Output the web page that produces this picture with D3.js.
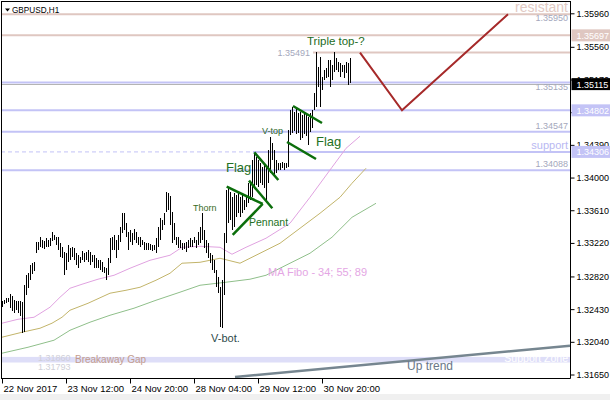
<!DOCTYPE html>
<html><head><meta charset="utf-8">
<script src="https://cdn.jsdelivr.net/npm/d3@7"></script>
<style>
body{margin:0;background:#fff}
svg{display:block}
text{font-family:"Liberation Sans",Arial,sans-serif}
</style></head>
<body><svg id="c" width="610" height="400"></svg>
<script>
// ---------------- DATA ----------------
const symbolTitle = "GBPUSD,H1";
const highs = [1.32524,1.32536,1.3256,1.3256,1.32608,1.32584,1.32536,1.32524,1.32524,1.32524,
1.32512,1.32715,1.32834,1.32858,1.32954,1.32978,1.32989,1.33228,1.33228,1.33288,
1.33252,1.3324,1.33276,1.33252,1.33276,1.33347,1.33312,1.33288,1.33288,1.33216,
1.33168,1.33109,1.33097,1.33192,1.33156,1.33168,1.33156,1.33097,1.33073,1.33049,
1.33121,1.33097,1.33109,1.33133,1.33109,1.33073,1.33073,1.33037,1.33013,1.33013,
1.32989,1.3293,1.32918,1.33037,1.33276,1.33288,1.33312,1.33252,1.33312,1.33407,
1.33574,1.33574,1.33455,1.33347,1.33371,1.33335,1.33383,1.33347,1.33288,1.33288,
1.33252,1.33228,1.33216,1.33216,1.33204,1.33192,1.33192,1.33276,1.33407,1.33514,
1.33491,1.33574,1.33825,1.33813,1.33777,1.33586,1.33455,1.33288,1.33288,1.33252,
1.33216,1.33216,1.33228,1.33252,1.33276,1.33252,1.33288,1.33252,1.33347,1.33407,
1.33574,1.33371,1.33252,1.33216,1.33097,1.33073,1.33013,1.32894,1.32811,1.32691,
1.32775,1.33335,1.33848,1.33872,1.33825,1.33765,1.33813,1.33789,1.33813,1.33765,
1.33813,1.33729,1.33765,1.33932,1.33932,1.34206,1.3429,1.34242,1.34206,1.34171,
1.34123,1.34171,1.34123,1.34326,1.34481,1.34409,1.34326,1.34206,1.34171,1.34171,
1.34182,1.34171,1.34171,1.34564,1.34803,1.34839,1.34779,1.34827,1.34767,1.34779,
1.34743,1.34779,1.34743,1.34719,1.34767,1.34803,1.35006,1.35495,1.35316,1.35435,
1.35196,1.3528,1.35304,1.35399,1.35399,1.3534,1.35495,1.35423,1.35375,1.35364,
1.3534,1.3534,1.35375,1.35364,1.35423];
const lows = [1.32453,1.32488,1.325,1.32512,1.32441,1.32405,1.32381,1.32417,1.32381,1.32345,
1.32142,1.32154,1.32596,1.32679,1.32775,1.32846,1.32882,1.33097,1.33133,1.33168,
1.33156,1.33145,1.33168,1.33168,1.3318,1.3324,1.33252,1.33192,1.33133,1.33049,
1.33037,1.32834,1.32894,1.32989,1.33013,1.33049,1.33013,1.32954,1.32918,1.32978,
1.33013,1.32989,1.33013,1.32989,1.32954,1.32989,1.32918,1.32918,1.32918,1.32894,
1.3287,1.32858,1.32775,1.32834,1.32978,1.33133,1.33133,1.33037,1.33133,1.33228,
1.33335,1.33371,1.33288,1.33133,1.33228,1.33192,1.33252,1.33216,1.33192,1.33168,
1.33192,1.33133,1.33133,1.33133,1.33133,1.33121,1.33133,1.33097,1.33168,1.33252,
1.33371,1.33431,1.33586,1.3361,1.33431,1.33216,1.33252,1.33192,1.33156,1.33156,
1.33133,1.33145,1.33109,1.33156,1.33168,1.33168,1.33216,1.33156,1.33192,1.33216,
1.33252,1.33156,1.33097,1.33037,1.32978,1.32894,1.32858,1.32691,1.3262,1.32214,
1.32202,1.32596,1.33216,1.33455,1.33491,1.33371,1.33407,1.33526,1.33574,1.33526,
1.33574,1.3361,1.33646,1.33693,1.33729,1.33765,1.33884,1.33908,1.33884,1.33932,
1.33908,1.33872,1.33729,1.33932,1.34051,1.34206,1.34004,1.34051,1.34087,1.34087,
1.34111,1.34087,1.34111,1.34123,1.34505,1.34528,1.34552,1.34516,1.34528,1.34445,
1.34469,1.34516,1.34493,1.34385,1.3454,1.34588,1.34803,1.34839,1.35077,1.34839,
1.35041,1.35161,1.35185,1.35196,1.35077,1.35161,1.35256,1.3528,1.35256,1.35196,
1.35256,1.35185,1.35244,1.35101,1.35125];

// MA Fibo 34 / 55 / 89 (shifted), sampled at bar indices
const ma34Idx = [0,8,16,24,29,34,40,48,56,64,74,84,90,99,109,115,122,132,144,154,165,172,179];
const ma34 = [1.32262,1.32309,1.32333,1.32453,1.32572,1.32679,1.32727,1.32787,1.32834,1.32918,1.33013,1.33073,1.33168,1.3318,1.33168,1.33085,1.33168,1.33276,1.33455,1.33765,1.34123,1.34349,1.34493];
const ma55Idx = [0,10,19,25,30,34,43,54,62,69,77,84,90,99,109,119,127,139,149,159,169,175,182];
const ma55 = [1.32095,1.32154,1.32202,1.32262,1.32333,1.32417,1.325,1.3262,1.32655,1.32691,1.32775,1.32858,1.32978,1.32989,1.33037,1.32978,1.33073,1.33216,1.33395,1.33574,1.33765,1.33932,1.34111];
const ma89Idx = [0,13,26,34,44,54,66,77,89,99,112,124,132,144,154,165,175,187];
const ma89 = [1.31904,1.31975,1.32059,1.32178,1.32274,1.32357,1.32441,1.32536,1.32632,1.32715,1.32751,1.32787,1.32834,1.32978,1.33097,1.33288,1.33526,1.33693];

const yTickValues = [1.35960,1.35560,1.35170,1.34780,1.34390,1.34000,1.33610,1.33220,1.32820,1.32430,1.32040,1.31650];
const xTickIdx = [0,32,64,96,128,160];
const xTickLabels = ["22 Nov 2017","23 Nov 12:00","24 Nov 20:00","28 Nov 04:00","29 Nov 12:00","30 Nov 20:00"];

const resistLevels = [1.35950,1.35697];
const tripleTop = 1.35491;
const supportLevels = [1.35135,1.34802,1.34547,1.34306,1.34088];
const currentPrice = 1.35115;
const gapZone = [1.31860,1.31793];

const forecastIdx = [179,200,253];
const forecastPx = [1.35491,1.34802,1.35950];
const upTrendIdx = [116.5,284];
const upTrendPx = [1.3162,1.31994];

// pattern lines: [idx1, px1, idx2, px2]
const patternLines = [
  [112.35,1.33891,130.35,1.33685],
  [115.35,1.33315,130.35,1.33685],
  [126.15,1.34301,138.15,1.33971],
  [123.5,1.33963,135.15,1.33633],
  [145.5,1.34854,160,1.34651],
  [142.5,1.34424,157,1.34221]
];

// ---------------- DRAW ----------------
const svg = d3.select("#c");
const PL=1, PR=570.5, PT=1, PB=378.5;
const x = d3.scaleLinear().domain([0,284]).range([2,570]);
const y = d3.scaleLinear().domain([1.3165,1.3596]).range([374.5,13.3]);

svg.append("rect").attr("x",0).attr("y",394).attr("width",610).attr("height",6).attr("fill","#f0f0f0");

svg.append("defs").append("clipPath").attr("id","pc")
  .append("rect").attr("x",PL).attr("y",PT).attr("width",PR-PL).attr("height",PB-PT);
const g = svg.append("g").attr("clip-path","url(#pc)");

const pink="#dfc7c1", blue="#c3c3f6";

// gap zone band
g.append("rect").attr("x",PL).attr("width",PR-PL)
  .attr("y",y(gapZone[0])).attr("height",y(gapZone[1])-y(gapZone[0])).attr("fill","#dedef8");

// level lines
g.selectAll("line.res").data(resistLevels).join("line")
  .attr("x1",PL).attr("x2",PR).attr("y1",d=>y(d)).attr("y2",d=>y(d))
  .attr("stroke",pink).attr("stroke-width",2);
g.append("line").attr("x1",x(155.5)).attr("x2",PR).attr("y1",y(tripleTop)).attr("y2",y(tripleTop))
  .attr("stroke",pink).attr("stroke-width",2);
supportLevels.forEach((v,i)=>{
  if(v===1.34306){
    g.append("line").attr("x1",PL).attr("x2",x(125.5)).attr("y1",y(v)).attr("y2",y(v))
      .attr("stroke",blue).attr("stroke-width",1).attr("stroke-dasharray","4,3");
    g.append("line").attr("x1",x(125.5)).attr("x2",PR).attr("y1",y(v)).attr("y2",y(v))
      .attr("stroke",blue).attr("stroke-width",2);
  } else {
    g.append("line").attr("x1",PL).attr("x2",PR).attr("y1",y(v)).attr("y2",y(v))
      .attr("stroke",blue).attr("stroke-width",2);
  }
});
g.append("line").attr("x1",PL).attr("x2",PR).attr("y1",Math.round(y(currentPrice))+0.5).attr("y2",Math.round(y(currentPrice))+0.5)
  .attr("stroke","#b4b4b4").attr("stroke-width",1);

// MA lines
function maLine(idx, vals, color){
  const pts = idx.map((d,i)=>[x(d),y(vals[i])]);
  g.append("path").attr("d",d3.line()(pts)).attr("fill","none").attr("stroke",color).attr("stroke-width",1);
}
maLine(ma89Idx, ma89, "#8fbf8a");
maLine(ma55Idx, ma55, "#c2b46a");
maLine(ma34Idx, ma34, "#e0a2e0");

// bars
g.append("g").selectAll("line").data(highs).join("line")
  .attr("x1",(d,i)=>Math.round(x(i))+0.5).attr("x2",(d,i)=>Math.round(x(i))+0.5)
  .attr("y1",d=>y(d)).attr("y2",(d,i)=>y(lows[i]))
  .attr("stroke","#000").attr("stroke-width",1).attr("shape-rendering","crispEdges");

// pattern lines
g.selectAll("line.pat").data(patternLines).join("line")
  .attr("x1",d=>x(d[0])).attr("y1",d=>y(d[1])).attr("x2",d=>x(d[2])).attr("y2",d=>y(d[3]))
  .attr("stroke","#0b6e0b").attr("stroke-width",2.5);

// forecast
g.append("path").attr("d",d3.line()(forecastIdx.map((d,i)=>[x(d),y(forecastPx[i])])))
  .attr("fill","none").attr("stroke","#a62a2a").attr("stroke-width",2);

// up trend
g.append("line").attr("x1",x(upTrendIdx[0])).attr("y1",y(upTrendPx[0])).attr("x2",x(upTrendIdx[1])).attr("y2",y(upTrendPx[1]))
  .attr("stroke","#768690").attr("stroke-width",2.5);

// text annotations
function txt(tx,ty,s,size,color,anchor){
  return svg.append("text").attr("x",tx).attr("y",ty).text(s).attr("font-size",size)
   .attr("fill",color).attr("text-anchor",anchor||"start");
}
txt(568,11.5,"resistant",14,"#e2cac4","end");
txt(568,21,"1.35950",9,"#a4a8bc","end");
txt(568,90,"1.35135",9,"#a4a8bc","end");
txt(568,129,"1.34547",9,"#a4a8bc","end");
txt(568,149,"support",11,"#b8b8f2","end");
txt(568,166.5,"1.34088",9,"#a4a8bc","end");
txt(x(154),y(tripleTop)+3,"1.35491",9,"#a4a8bc","end");
txt(x(152.5),44.5,"Triple top-?",11.5,"#236b23");
txt(x(130),134,"V-top",9,"#2f6b2a");
txt(x(112),172,"Flag",13,"#237023");
txt(x(157),146,"Flag",13,"#237023");
txt(x(123.5),226,"Pennant",10.5,"#237023");
txt(x(95.5),211,"Thorn",9,"#3a6b1e");
txt(x(104.5),342,"V-bot.",11,"#2d4a4a");
txt(x(133),276,"MA Fibo - 34; 55; 89",11,"#e4a6e4");
txt(38,361,"1.31860",9,"#cfcfd8");
txt(38,370,"1.31793",9,"#cfcfd8");
txt(75,363,"Breakaway Gap",10,"#c49c8c");
txt(568,362,"Support Zone",10.5,"#ffffff","end");
txt(407,370,"Up trend",12,"#6a7788");

// title
svg.append("path").attr("d","M5,8.5 L10,8.5 L7.5,11.5 Z").attr("fill","#000");
txt(12,12.5,symbolTitle,8.2,"#000");

// frame
svg.append("line").attr("x1",1.5).attr("x2",1.5).attr("y1",1).attr("y2",PB).attr("stroke","#000");
svg.append("line").attr("x1",1).attr("x2",PR).attr("y1",1.5).attr("y2",1.5).attr("stroke","#000");
svg.append("line").attr("x1",PR).attr("x2",PR).attr("y1",1).attr("y2",PB).attr("stroke","#000");
svg.append("line").attr("x1",1).attr("x2",PR).attr("y1",PB).attr("y2",PB).attr("stroke","#000");

// y axis
const ya = svg.append("g").attr("transform",`translate(${PR},0)`)
  .call(d3.axisRight(y).tickValues(yTickValues).tickFormat(d3.format(".5f")).tickSize(4).tickPadding(2));
ya.select(".domain").remove();
ya.selectAll("text").attr("font-size",9).attr("fill","#000").style("font-family","Liberation Sans, Arial");
ya.selectAll("line").attr("stroke","#000");

// x axis
const xa = svg.append("g").attr("transform",`translate(0,${PB})`)
  .call(d3.axisBottom(x).tickValues(xTickIdx).tickFormat((d,i)=>xTickLabels[i]).tickSize(5).tickPadding(2));
xa.select(".domain").remove();
xa.selectAll("text").attr("font-size",9.5).attr("fill","#000").attr("text-anchor","start").attr("dx",1)
  .style("font-family","Liberation Sans, Arial");
xa.selectAll("line").attr("stroke","#000");

// price boxes on axis
const boxVals = [1.35697,1.35115,1.34802,1.34306];
const boxFill = [pink,"#000",blue,blue];
boxVals.forEach((v,i)=>{
  const cy = y(v);
  svg.append("rect").attr("x",PR+1).attr("y",cy-6).attr("width",610-PR).attr("height",12).attr("fill",boxFill[i]);
  txt(PR+6,cy+3.5,d3.format(".5f")(v),9,"#fff");
});
</script>
</body></html>
